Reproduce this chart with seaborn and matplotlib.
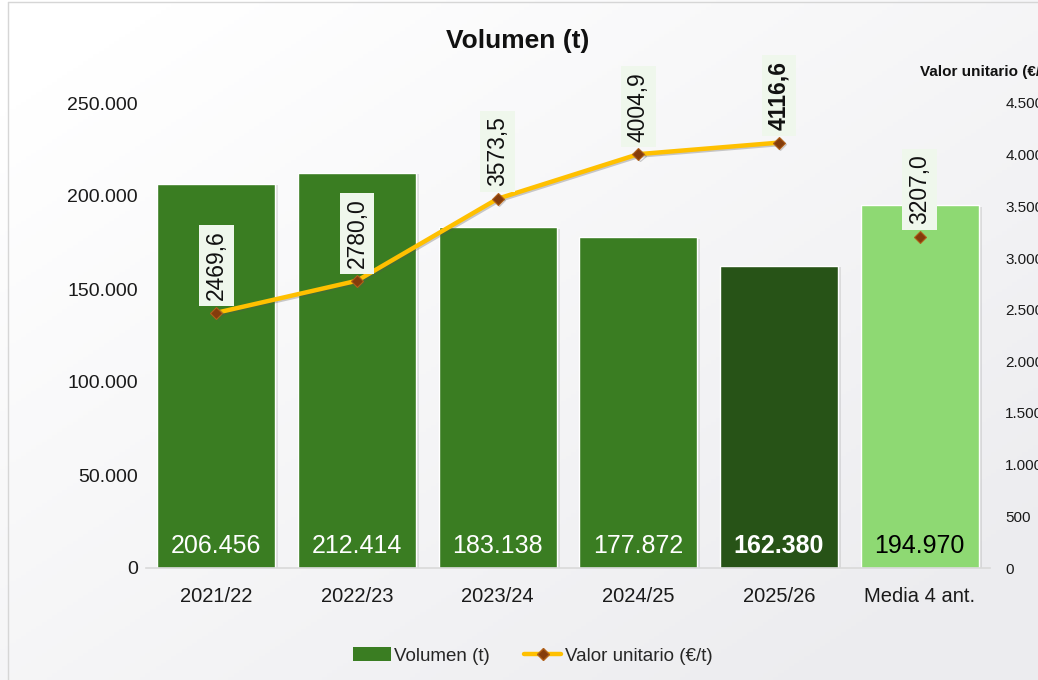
import numpy as np
import pandas as pd
import matplotlib
matplotlib.use("Agg")
import matplotlib.pyplot as plt
import matplotlib.patheffects as pe
from matplotlib.lines import Line2D
from matplotlib.patches import Patch
from matplotlib.ticker import FuncFormatter, FixedLocator
import seaborn as sns

# ---- data ----
categories = ["2021/22", "2022/23", "2023/24", "2024/25", "2025/26", "Media 4 ant."]
volumes = [206456, 212414, 183138, 177872, 162380, 194970]
unit_values = [2469.6, 2780.0, 3573.5, 4004.9, 4116.6]
media_value = 3207.0
volume_labels = ["206.456", "212.414", "183.138", "177.872", "162.380", "194.970"]
left_ticks = [0, 50000, 100000, 150000, 200000, 250000]
right_ticks = [0, 500, 1000, 1500, 2000, 2500, 3000, 3500, 4000, 4500]

bar_colors = ["#3A7D22", "#3A7D22", "#3A7D22", "#3A7D22", "#275317", "#8ED973"]
label_colors = ["white", "white", "white", "white", "white", "black"]
label_weights = ["normal", "normal", "normal", "normal", "bold", "normal"]
line_color = "#FFC000"
marker_color = "#843C0C"

sns.set_theme(style="white")
plt.rcParams["font.family"] = ["Liberation Sans", "DejaVu Sans"]

W, H = 1038, 680
fig = plt.figure(figsize=(W / 100, H / 100), dpi=100)

# background gradient
bg = fig.add_axes([0, 0, 1, 1], zorder=-10)
gx = np.linspace(0, 1, 200)
gy = np.linspace(0, 1, 200)
GX, GY = np.meshgrid(gx, gy)
G = np.clip(0.6 * GX + 0.6 * GY - 0.1, 0, 1)
c0 = np.array([1.0, 1.0, 1.0])
c1 = np.array([0xEC, 0xEC, 0xEF]) / 255
img = c0[None, None, :] * (1 - G[..., None]) + c1[None, None, :] * G[..., None]
bg.imshow(img, extent=[0, 1, 0, 1], aspect="auto", origin="upper")
bg.set_axis_off()

# border lines
fig.add_artist(Line2D([8 / W, 8 / W], [0, 1 - 2 / H], transform=fig.transFigure, color="#D6D6D6", lw=1.0))
fig.add_artist(Line2D([8 / W, 1], [1 - 2 / H, 1 - 2 / H], transform=fig.transFigure, color="#D6D6D6", lw=1.0))

left, right, bottom, top = 146 / W, 990 / W, 1 - 568 / H, 1 - 103 / H
ax = fig.add_axes([left, bottom, right - left, top - bottom])
ax.set_facecolor("none")

df = pd.DataFrame({"cat": categories, "vol": volumes})
sns.barplot(data=df, x="cat", y="vol", hue="cat", palette=bar_colors, legend=False,
            width=0.84, saturation=1, ax=ax, order=categories, hue_order=categories)
for p in ax.patches:
    p.set_path_effects([pe.SimplePatchShadow(offset=(2, -1), alpha=0.2, shadow_rgbFace="gray"), pe.Normal()])

ax.set_xlim(-0.5, 5.5)
ax.set_ylim(0, 250000)
ax.yaxis.set_major_locator(FixedLocator(left_ticks))
ax.yaxis.set_major_formatter(FuncFormatter(lambda v, _: f"{int(v):,}".replace(",", ".")))
ax.set_xlabel("")
ax.set_ylabel("")
ax.tick_params(axis="y", length=0, pad=6, labelsize=14, labelcolor="#1a1a1a")
ax.tick_params(axis="x", length=0, pad=14, labelsize=14.5, labelcolor="#1a1a1a")
for s in ["top", "left", "right"]:
    ax.spines[s].set_visible(False)
ax.spines["bottom"].set_color("#D9D9D9")
ax.spines["bottom"].set_linewidth(1.2)

for i, (lab, c, w) in enumerate(zip(volume_labels, label_colors, label_weights)):
    ax.text(i, 12000, lab, ha="center", va="center", fontsize=18, color=c, fontweight=w)

# secondary axis
ax2 = ax.twinx()
ax2.set_ylim(0, 4500)
xs = np.arange(len(unit_values))
shadow = [pe.SimpleLineShadow(offset=(1, -1), alpha=0.3, shadow_color="#555555"), pe.Normal()]
sns.lineplot(x=xs, y=unit_values, ax=ax2, color=line_color, lw=3.2, marker="D", markersize=6,
             markerfacecolor=marker_color, markeredgecolor="#B0601A", markeredgewidth=0.8,
             path_effects=shadow, legend=False)
ax2.plot([5], [media_value], linestyle="none", marker="D", markersize=6,
         markerfacecolor=marker_color, markeredgecolor="#B0601A", markeredgewidth=0.8)
ax2.yaxis.set_major_locator(FixedLocator(right_ticks))
ax2.yaxis.set_major_formatter(FuncFormatter(lambda v, _: f"{int(v):,}".replace(",", ".")))
ax2.tick_params(axis="y", length=0, pad=11, labelsize=11, labelcolor="#1a1a1a")
for s in ["top", "left", "right", "bottom"]:
    ax2.spines[s].set_visible(False)
ax2.set_ylabel("")
ax2.set_xlim(-0.5, 5.5)

all_vals = unit_values + [media_value]
for i, v in enumerate(all_vals):
    txt = f"{v:.1f}".replace(".", ",")
    ax2.annotate(txt, xy=(i, v), xytext=(0, 9), textcoords="offset points", rotation=90,
                 ha="center", va="bottom", fontsize=16.5, color="#111111",
                 fontweight="bold" if i == 4 else "normal",
                 bbox=dict(boxstyle="square,pad=0.25", fc="#EFF7EC", ec="none"))

# titles
fig.text(518 / W, 1 - 41 / H, "Volumen (t)", ha="center", va="center", fontsize=19, fontweight="bold", color="#111111")
fig.text(920 / W, 1 - 72 / H, "Valor unitario (€/t)", ha="left", va="center", fontsize=11, fontweight="bold", color="#111111")

# legend
handles = [Patch(facecolor="#3A7D22", edgecolor="none"),
           Line2D([0], [0], color=line_color, lw=3.2, marker="D", markersize=6,
                  markerfacecolor=marker_color, markeredgecolor="#B0601A")]
fig.legend(handles, ["Volumen (t)", "Valor unitario (€/t)"], loc="center",
           bbox_to_anchor=(533 / W, 1 - 656 / H), ncol=2, frameon=False, fontsize=13.5,
           handlelength=2.0, handletextpad=0.2, columnspacing=1.8)

fig.savefig("out.png", dpi=100)
